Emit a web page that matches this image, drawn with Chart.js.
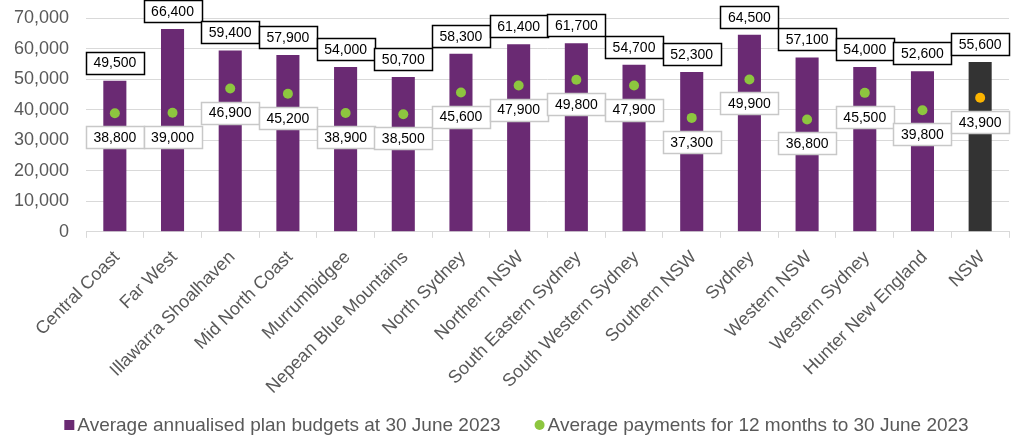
<!DOCTYPE html>
<html>
<head>
<meta charset="utf-8">
<script src="https://cdn.jsdelivr.net/npm/chart.js@4"></script>
<style>
  html, body { margin: 0; padding: 0; background: #fff; }
  #wrap { width: 1029px; height: 436px; }
</style>
</head>
<body>
<div id="wrap"><canvas id="chart"></canvas></div>
<script>
// Regiões
const categories = ['Central Coast', 'Far West', 'Illawarra Shoalhaven', 'Mid North Coast', 'Murrumbidgee',
    'Nepean Blue Mountains', 'North Sydney', 'Northern NSW', 'South Eastern Sydney', 'South Western Sydney',
    'Southern NSW', 'Sydney', 'Western NSW', 'Western Sydney', 'Hunter New England', 'NSW'];
const budgets = [49500, 66400, 59400, 57900, 54000, 50700, 58300, 61400, 61700, 54700, 52300, 64500, 57100, 54000, 52600, 55600];
const payments = [38800, 39000, 46900, 45200, 38900, 38500, 45600, 47900, 49800, 47900, 37300, 49900, 36800, 45500, 39800, 43900];
const yTicks = [0, 10000, 20000, 30000, 40000, 50000, 60000, 70000];

const purple = '#6a2a73';
const green = '#8dc63f';
const grey = '#595959';
const FONT = '"Liberation Sans", Arial, sans-serif';
const fmt = v => v.toLocaleString('en-US');

// caixas de rótulo (sem plugin datalabels)
const boxLabels = {
    id: 'boxLabels',
    afterDatasetsDraw(chart) {
        const ctx = chart.ctx;
        ctx.save();
        ctx.font = '14px ' + FONT;
        ctx.textAlign = 'center';
        ctx.textBaseline = 'middle';
        const drawBox = (cx, cy, text, stroke, lw) => {
            const w = Math.round(ctx.measureText(text).width + 15);
            const h = 22;
            const x = Math.round(cx - w / 2) + 0.5, y = Math.round(cy - h / 2) + 0.5;
            ctx.fillStyle = '#fff';
            ctx.fillRect(x, y, w, h);
            ctx.strokeStyle = stroke;
            ctx.lineWidth = lw;
            ctx.strokeRect(x, y, w, h);
            ctx.fillStyle = '#000';
            ctx.fillText(text, cx, cy + 1);
        };
        chart.getDatasetMeta(0).data.forEach((el, i) => {
            drawBox(el.x, el.y - 18, fmt(budgets[i]), '#000', 1.5);
        });
        chart.getDatasetMeta(1).data.forEach((el, i) => {
            drawBox(el.x, el.y + 24, fmt(payments[i]), '#c8c8c8', 1.5);
        });
        ctx.restore();
    }
};

// legenda desenhada à mão (espaçamento do Excel)
const bottomLegend = {
    id: 'bottomLegend',
    afterDraw(chart) {
        const ctx = chart.ctx;
        const items = chart.data.datasets.map((ds, i) => ({ text: ds.label, color: i === 0 ? purple : green, circle: i === 1 }));
        ctx.save();
        ctx.font = '19px ' + FONT;
        ctx.textBaseline = 'middle';
        const box = 10, gapBox = 3, gapItem = 34;
        const widths = items.map(it => box + gapBox + ctx.measureText(it.text).width);
        const total = widths.reduce((a, b) => a + b, 0) + gapItem * (items.length - 1);
        let x = (chart.width - total) / 2 + 2;
        const y = chart.height - 11;
        items.forEach((it, i) => {
            ctx.fillStyle = it.color;
            if (it.circle) {
                ctx.beginPath();
                ctx.arc(x + box / 2, y, box / 2, 0, Math.PI * 2);
                ctx.fill();
            } else {
                ctx.fillRect(x, y - box / 2, box, box);
            }
            ctx.fillStyle = grey;
            ctx.fillText(it.text, x + box + gapBox, y + 1);
            x += widths[i] + gapItem;
        });
        ctx.restore();
    }
};

const ctx = document.getElementById('chart').getContext('2d');
new Chart(ctx, {
    data: {
        labels: categories,
        datasets: [{
            type: 'bar',
            label: 'Average annualised plan budgets at 30 June 2023',
            data: budgets,
            backgroundColor: budgets.map((v, i) => i === budgets.length - 1 ? '#333333' : purple),
            barPercentage: 0.8,
            categoryPercentage: 0.5,
            order: 2
        }, {
            type: 'line',
            label: 'Average payments for 12 months to 30 June 2023',
            data: payments,
            showLine: false,
            pointRadius: 5,
            pointHoverRadius: 5,
            pointBackgroundColor: payments.map((v, i) => i === payments.length - 1 ? '#fbb400' : green),
            pointBorderWidth: 0,
            backgroundColor: green,
            borderColor: green,
            order: 1
        }]
    },
    options: {
        responsive: true,
        maintainAspectRatio: false,
        animation: false,
        layout: { padding: { top: 18, right: 20, left: 12, bottom: 29 } },
        plugins: {
            legend: { display: false },
            tooltip: { enabled: false }
        },
        scales: {
            x: {
                grid: { drawOnChartArea: false, offset: true, tickLength: 6, color: '#d9d9d9' },
                border: { color: '#d9d9d9' },
                ticks: {
                    maxRotation: 45, minRotation: 45,
                    padding: 9,
                    labelOffset: 2,
                    color: grey,
                    font: { family: FONT, size: 18 }
                }
            },
            y: {
                min: 0, max: 70000,
                afterBuildTicks(axis) { axis.ticks = yTicks.map(v => ({ value: v })); },
                afterFit(axis) { axis.width = 74; axis.paddingTop = 0; axis.paddingBottom = 0; },
                grid: { color: '#d9d9d9', drawTicks: false },
                border: { display: false },
                ticks: {
                    padding: 17,
                    color: grey,
                    font: { family: FONT, size: 18 },
                    callback: v => fmt(v)
                }
            }
        }
    },
    plugins: [boxLabels, bottomLegend]
});
</script>
</body>
</html>
